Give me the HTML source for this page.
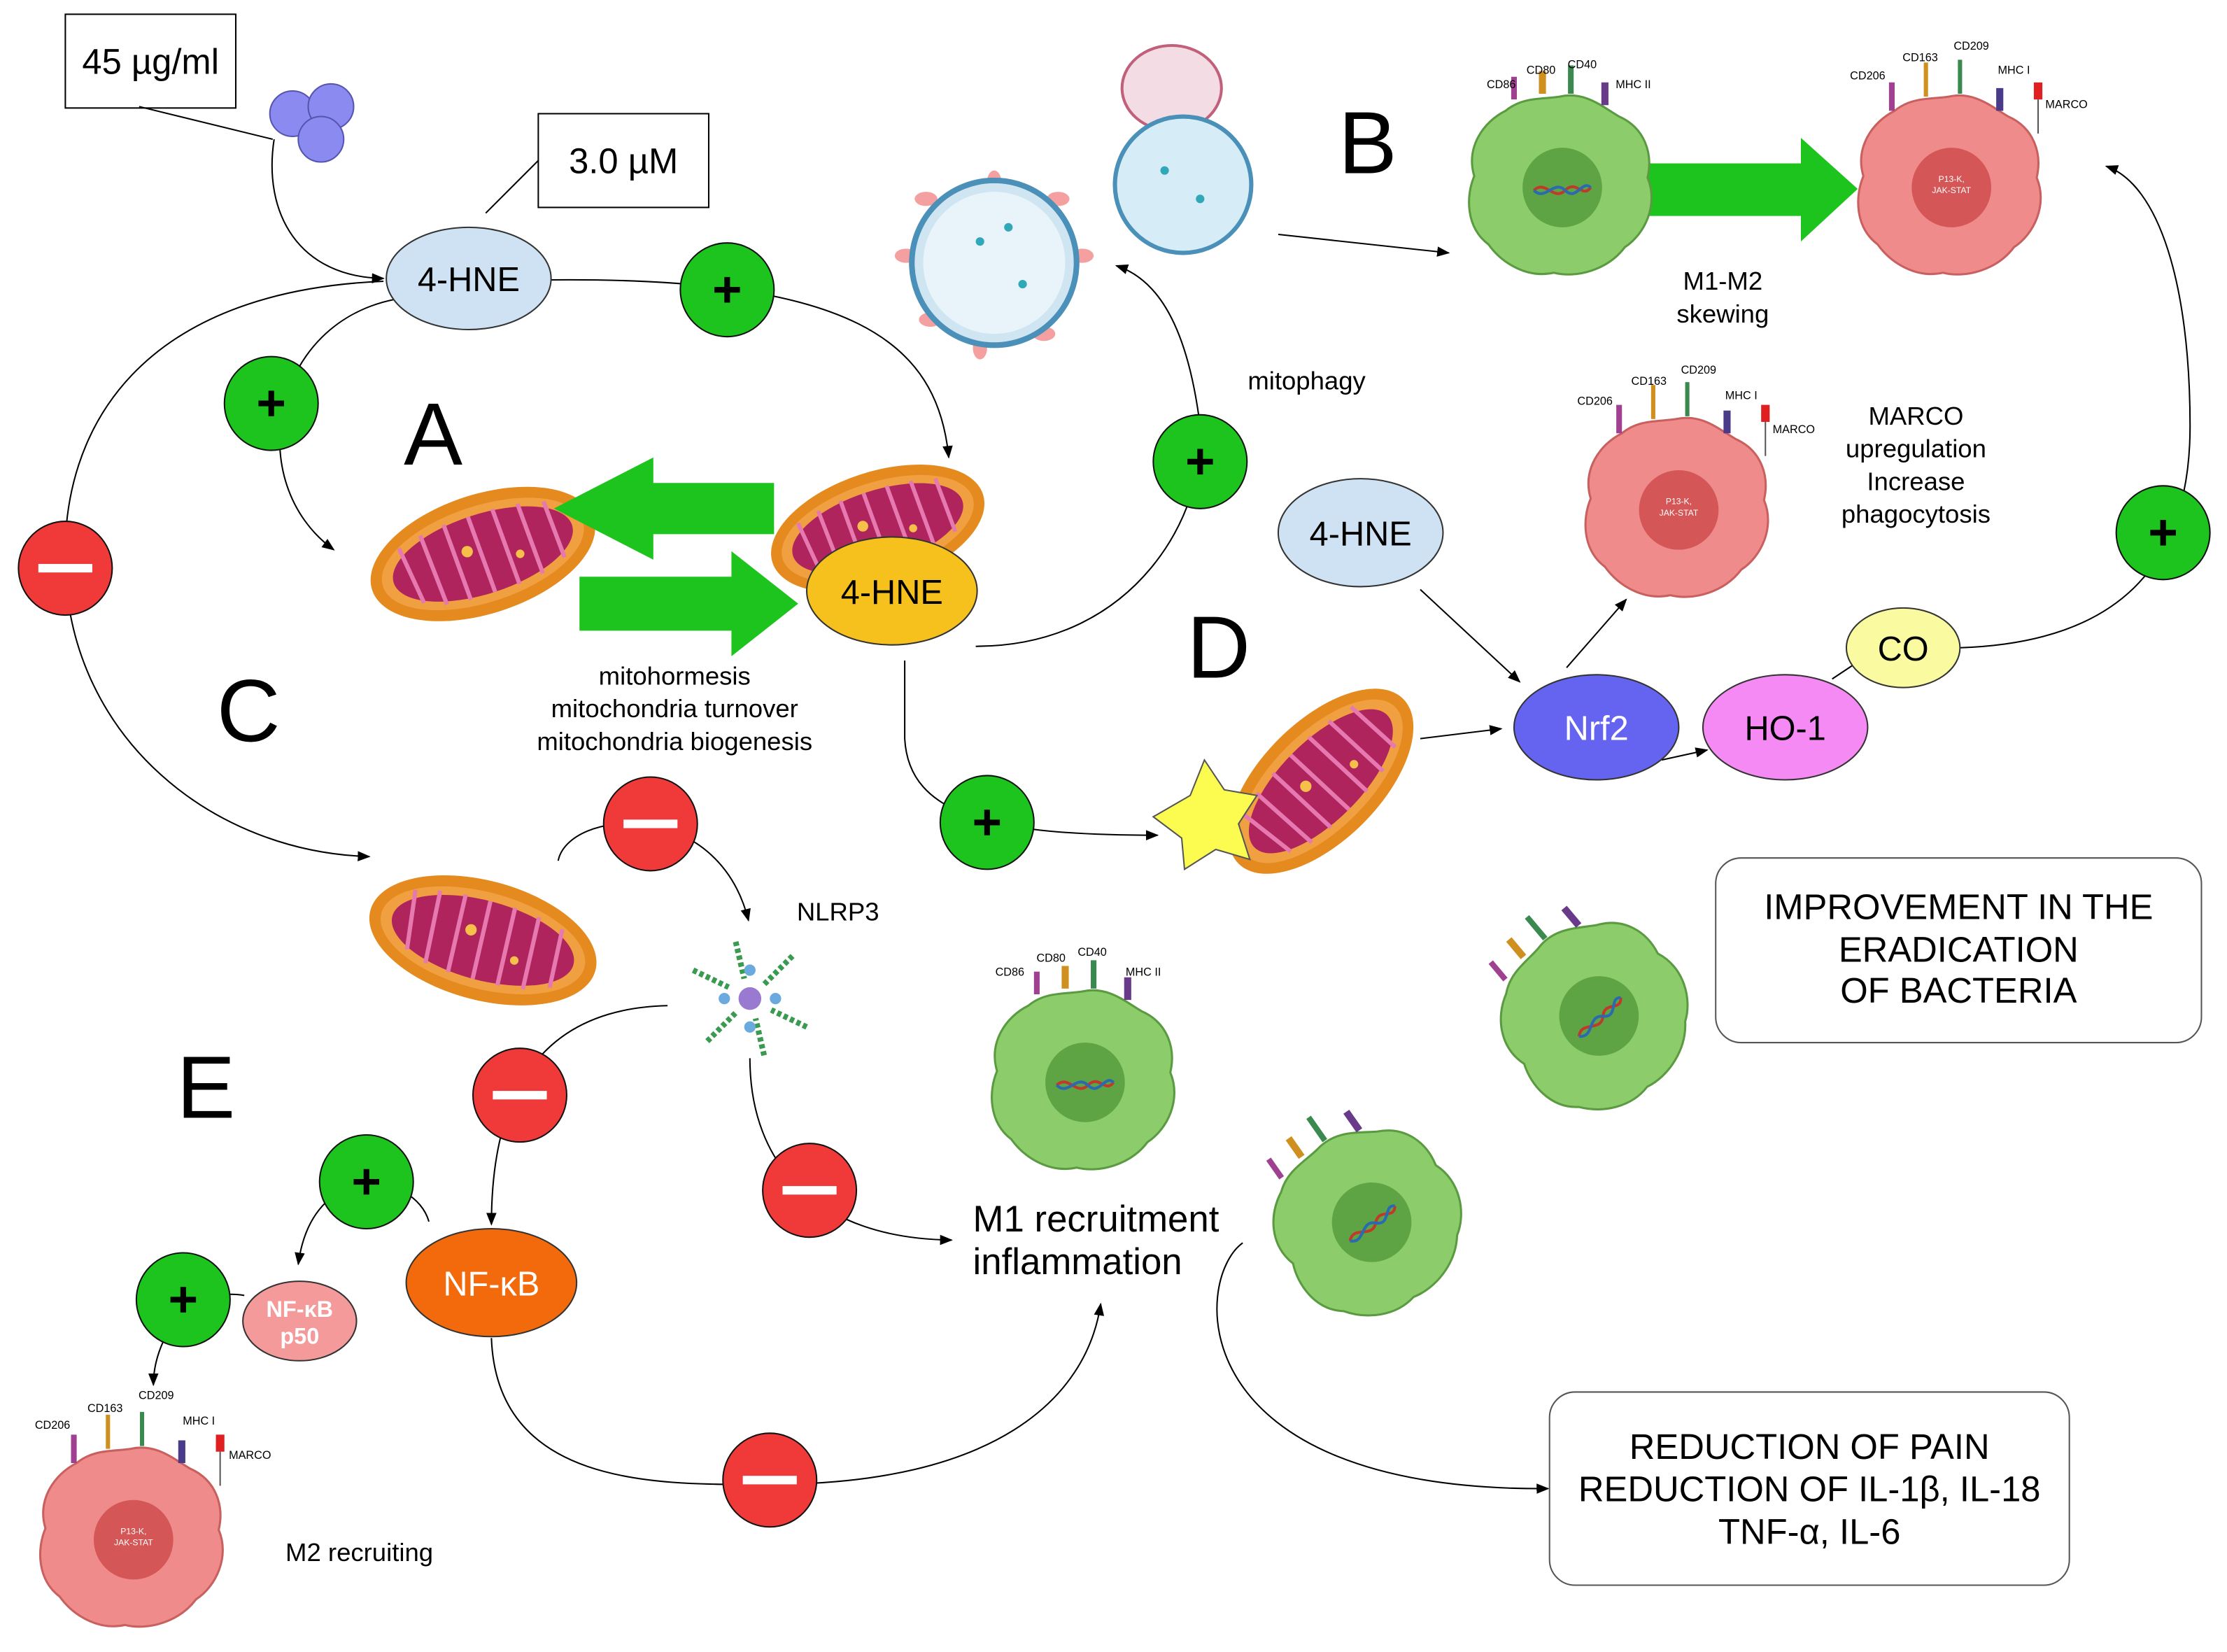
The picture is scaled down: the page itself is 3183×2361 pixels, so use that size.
<!DOCTYPE html>
<html><head><meta charset="utf-8"><style>
html,body{margin:0;padding:0;background:#fff}
svg{display:block}
text{font-family:"Liberation Sans",sans-serif}
</style></head><body>
<svg width="3183" height="2361" viewBox="0 0 1568 1163" xmlns="http://www.w3.org/2000/svg">
<defs>
<marker id="ar" viewBox="0 0 10 10" refX="9" refY="5" markerWidth="9" markerHeight="9" orient="auto" markerUnits="userSpaceOnUse"><path d="M0,1 L10,5 L0,9 z" fill="#000"/></marker>
<g id="mito">
<ellipse cx="0" cy="0" rx="82" ry="42" fill="#e58a1e"/>
<ellipse cx="0" cy="0" rx="74" ry="34" fill="#f0a040"/>
<ellipse cx="0" cy="0" rx="66" ry="28" fill="#b0245e"/>
<path d="M-55,-22 L-50,20 M-38,-26 L-35,26 M-20,-28 L-18,28 M-2,-28 L0,28 M16,-28 L18,28 M34,-26 L36,26 M52,-22 L54,20" stroke="#e67ab0" stroke-width="3" fill="none"/>
<circle cx="-10" cy="-5" r="4" fill="#f6c04a"/><circle cx="25" cy="8" r="3" fill="#f6c04a"/>
</g>
<g id="gcell">
<path d="M0,-62 C18,-66 30,-55 42,-48 C60,-40 66,-22 62,-5 C70,14 60,35 46,44 C34,60 12,66 -4,62 C-22,66 -40,56 -50,42 C-66,30 -66,8 -60,-6 C-66,-26 -54,-44 -38,-52 C-26,-62 -12,-60 0,-62 Z" fill="#8ccc6a" stroke="#5a9a40" stroke-width="1.5"/>
<circle cx="2" cy="2" r="28" fill="#5ea444"/>
<path d="M-18,4 C-10,-4 -4,12 4,4 C12,-4 16,10 22,2" stroke="#c0392b" stroke-width="2" fill="none"/>
<path d="M-18,4 C-10,12 -4,-4 4,4 C12,12 16,-4 22,2" stroke="#2a6ab0" stroke-width="2" fill="none"/>
</g>
<g id="pcell">
<path d="M0,-62 C18,-66 30,-55 42,-48 C60,-40 66,-22 62,-5 C70,14 60,35 46,44 C34,60 12,66 -4,62 C-22,66 -40,56 -50,42 C-66,30 -66,8 -60,-6 C-66,-26 -54,-44 -38,-52 C-26,-62 -12,-60 0,-62 Z" fill="#ef8b8b" stroke="#c96060" stroke-width="1.5"/>
<circle cx="2" cy="2" r="28" fill="#d45656"/>
<text x="2" y="-2" font-size="6" fill="#fff" text-anchor="middle">P13-K,</text>
<text x="2" y="6" font-size="6" fill="#fff" text-anchor="middle">JAK-STAT</text>
</g>
<g id="recG">
<line x1="-32" y1="-60" x2="-32" y2="-76" stroke="#a04090" stroke-width="4"/>
<line x1="-12" y1="-64" x2="-12" y2="-80" stroke="#d09020" stroke-width="5"/>
<line x1="8" y1="-64" x2="8" y2="-84" stroke="#3a8a50" stroke-width="4"/>
<line x1="32" y1="-56" x2="32" y2="-72" stroke="#6a3a8a" stroke-width="5"/>
</g>
<g id="recP">
<line x1="-40" y1="-52" x2="-40" y2="-72" stroke="#a04090" stroke-width="4"/>
<line x1="-16" y1="-62" x2="-16" y2="-86" stroke="#d09020" stroke-width="3"/>
<line x1="8" y1="-64" x2="8" y2="-88" stroke="#3a8a50" stroke-width="3"/>
<line x1="36" y1="-52" x2="36" y2="-68" stroke="#4a3a8a" stroke-width="5"/>
<rect x="60" y="-72" width="6" height="12" fill="#e02020"/>
<line x1="63" y1="-60" x2="63" y2="-36" stroke="#555" stroke-width="1"/>
</g>
<g id="plus"><circle r="33" fill="#1ec41e" stroke="#111" stroke-width="1"/><path d="M-9,0 H9 M0,-9 V9" stroke="#000" stroke-width="4"/></g>
<g id="minus"><circle r="33" fill="#f03a3a" stroke="#111" stroke-width="1"/><rect x="-19" y="-3" width="38" height="6" fill="#fff"/></g>
</defs>

<rect x="46" y="10" width="120" height="66" fill="#fff" stroke="#000" stroke-width="1"/>
<text x="106" y="52" font-size="25" text-anchor="middle">45 µg/ml</text>
<line x1="98" y1="75" x2="192" y2="98" stroke="#000"/>
<circle cx="206" cy="80" r="16" fill="#8a8af0" stroke="#5555b0"/>
<circle cx="233" cy="75" r="16" fill="#8a8af0" stroke="#5555b0"/>
<circle cx="226" cy="98" r="16" fill="#8a8af0" stroke="#5555b0"/>
<rect x="379" y="80" width="120" height="66" fill="#fff" stroke="#000"/>
<text x="439" y="122" font-size="25" text-anchor="middle">3.0 µM</text>
<line x1="379" y1="113" x2="342" y2="150" stroke="#000"/>

<g fill="none" stroke="#000" stroke-width="1">
<path d="M193,98 C185,150 210,195 270,196" marker-end="url(#ar)"/>
<path d="M388,197 C600,195 660,240 668,322" marker-end="url(#ar)"/>
<path d="M270,198 C100,205 42,300 46,400 C50,520 150,600 260,603" marker-end="url(#ar)"/>
<path d="M282,210 C190,225 170,340 235,387" marker-end="url(#ar)"/>
<path d="M687,455 C800,455 850,360 845,300 C835,220 810,195 786,187" marker-end="url(#ar)"/>
<path d="M637,465 L637,520 C640,575 700,588 815,588" marker-end="url(#ar)"/>
<path d="M900,165 L1020,178" marker-end="url(#ar)"/>
<path d="M1000,415 L1070,480" marker-end="url(#ar)"/>
<path d="M1103,470 L1145,422" marker-end="url(#ar)"/>
<path d="M1000,520 L1057,513" marker-end="url(#ar)"/>
<path d="M1170,535 L1202,528" marker-end="url(#ar)"/>
<path d="M1290,478 L1317,460" marker-end="url(#ar)"/>
<path d="M1380,456 C1500,452 1542,390 1542,300 C1542,200 1520,130 1483,117" marker-end="url(#ar)"/>
<path d="M393,606 C400,570 505,560 527,648" marker-end="url(#ar)"/>
<path d="M470,708 C380,710 346,770 346,862" marker-end="url(#ar)"/>
<path d="M528,745 C528,820 575,872 670,873" marker-end="url(#ar)"/>
<path d="M302,860 C292,825 220,815 210,890" marker-end="url(#ar)"/>
<path d="M172,912 C130,905 108,945 108,975" marker-end="url(#ar)"/>
<path d="M346,942 C350,1050 470,1045 542,1045 C700,1045 765,985 775,918" marker-end="url(#ar)"/>
<path d="M875,875 C840,900 830,1050 1090,1048" marker-end="url(#ar)"/>
</g>

<ellipse cx="330" cy="196" rx="58" ry="36" fill="#cfe2f3" stroke="#333"/>
<text x="330" y="205" font-size="24" text-anchor="middle">4-HNE</text>

<use href="#mito" transform="translate(340,390) rotate(-18)"/>
<use href="#mito" transform="translate(618,372) rotate(-18) scale(0.95)"/>
<use href="#mito" transform="translate(340,662) rotate(15)"/>
<use href="#mito" transform="translate(930,550) rotate(-45)"/>
<polygon points="812,575 838,560 848,535 862,556 885,560 872,580 880,605 856,598 834,612 832,590" fill="#fbfb50" stroke="#555"/>

<polygon points="545,340 460,340 460,322 390,358 460,394 460,376 545,376" fill="#1ec41e"/>
<polygon points="408,406 515,406 515,388 562,425 515,462 515,444 408,444" fill="#1ec41e"/>
<polygon points="1153,115 1268,115 1268,97 1308,133 1268,170 1268,152 1153,152" fill="#1ec41e"/>

<ellipse cx="628" cy="416" rx="60" ry="38" fill="#f6c11c" stroke="#333"/>
<text x="628" y="425" font-size="24" text-anchor="middle">4-HNE</text>

<text x="475" y="482" font-size="18" text-anchor="middle">mitohormesis</text>
<text x="475" y="505" font-size="18" text-anchor="middle">mitochondria turnover</text>
<text x="475" y="528" font-size="18" text-anchor="middle">mitochondria biogenesis</text>

<text x="305" y="327" font-size="62" text-anchor="middle">A</text>
<text x="963" y="122" font-size="62" text-anchor="middle">B</text>
<text x="175" y="522" font-size="62" text-anchor="middle">C</text>
<text x="858" y="477" font-size="62" text-anchor="middle">D</text>
<text x="145" y="787" font-size="62" text-anchor="middle">E</text>

<g fill="#f4a0a0">
<ellipse cx="652" cy="140" rx="8" ry="5"/><ellipse cx="638" cy="180" rx="8" ry="5"/><ellipse cx="655" cy="225" rx="8" ry="5"/>
<ellipse cx="690" cy="245" rx="5" ry="8"/><ellipse cx="735" cy="235" rx="8" ry="5"/><ellipse cx="762" cy="180" rx="8" ry="5"/><ellipse cx="745" cy="140" rx="8" ry="5"/><ellipse cx="700" cy="128" rx="5" ry="8"/>
</g>
<circle cx="700" cy="185" r="58" fill="#cfe6f2" stroke="#4a90b8" stroke-width="4"/>
<circle cx="700" cy="185" r="50" fill="#e8f4fa"/>
<ellipse cx="825" cy="62" rx="35" ry="30" fill="#f4dce4" stroke="#c0607a" stroke-width="2"/>
<circle cx="833" cy="130" r="48" fill="#d6ecf6" stroke="#4a90b8" stroke-width="3"/>
<g fill="#30a8b8"><circle cx="690" cy="170" r="3"/><circle cx="720" cy="200" r="3"/><circle cx="710" cy="160" r="3"/><circle cx="820" cy="120" r="3"/><circle cx="845" cy="140" r="3"/></g>

<text x="920" y="274" font-size="18" text-anchor="middle">mitophagy</text>

<use href="#gcell" transform="translate(1098,130)"/>
<use href="#recG" transform="translate(1098,130)"/>
<text x="1057" y="62" font-size="8" text-anchor="middle">CD86</text><text x="1085" y="52" font-size="8" text-anchor="middle">CD80</text><text x="1114" y="48" font-size="8" text-anchor="middle">CD40</text><text x="1150" y="62" font-size="8" text-anchor="middle">MHC II</text>
<use href="#pcell" transform="translate(1372,130)"/>
<use href="#recP" transform="translate(1372,130)"/>
<text x="1315" y="56" font-size="8" text-anchor="middle">CD206</text><text x="1352" y="43" font-size="8" text-anchor="middle">CD163</text><text x="1388" y="35" font-size="8" text-anchor="middle">CD209</text><text x="1418" y="52" font-size="8" text-anchor="middle">MHC I</text><text x="1455" y="76" font-size="8" text-anchor="middle">MARCO</text>
<text x="1213" y="204" font-size="18" text-anchor="middle">M1-M2</text>
<text x="1213" y="227" font-size="18" text-anchor="middle">skewing</text>

<use href="#pcell" transform="translate(1180,357)"/>
<use href="#recP" transform="translate(1180,357)"/>
<text x="1123" y="285" font-size="8" text-anchor="middle">CD206</text><text x="1161" y="271" font-size="8" text-anchor="middle">CD163</text><text x="1196" y="263" font-size="8" text-anchor="middle">CD209</text><text x="1226" y="281" font-size="8" text-anchor="middle">MHC I</text><text x="1263" y="305" font-size="8" text-anchor="middle">MARCO</text>
<text x="1349" y="299" font-size="18" text-anchor="middle">MARCO</text>
<text x="1349" y="322" font-size="18" text-anchor="middle">upregulation</text>
<text x="1349" y="345" font-size="18" text-anchor="middle">Increase</text>
<text x="1349" y="368" font-size="18" text-anchor="middle">phagocytosis</text>

<ellipse cx="958" cy="375" rx="58" ry="38" fill="#cfe2f3" stroke="#333"/>
<text x="958" y="384" font-size="24" text-anchor="middle">4-HNE</text>
<ellipse cx="1124" cy="512" rx="58" ry="37" fill="#6464f0" stroke="#333"/>
<text x="1124" y="521" font-size="24" text-anchor="middle" fill="#fff">Nrf2</text>
<ellipse cx="1257" cy="512" rx="58" ry="37" fill="#f58af5" stroke="#333"/>
<text x="1257" y="521" font-size="24" text-anchor="middle">HO-1</text>
<ellipse cx="1340" cy="456" rx="40" ry="28" fill="#fafaa0" stroke="#333"/>
<text x="1340" y="465" font-size="24" text-anchor="middle">CO</text>

<rect x="1208" y="604" width="342" height="130" rx="18" fill="#fff" stroke="#555"/>
<text x="1379" y="647" font-size="25" text-anchor="middle">IMPROVEMENT IN THE</text>
<text x="1379" y="677" font-size="25" text-anchor="middle">ERADICATION</text>
<text x="1379" y="706" font-size="25" text-anchor="middle">OF BACTERIA</text>

<rect x="1091" y="980" width="366" height="136" rx="18" fill="#fff" stroke="#555"/>
<text x="1274" y="1027" font-size="25" text-anchor="middle">REDUCTION OF PAIN</text>
<text x="1274" y="1057" font-size="25" text-anchor="middle">REDUCTION OF IL-1β, IL-18</text>
<text x="1274" y="1087" font-size="25" text-anchor="middle">TNF-α, IL-6</text>

<use href="#gcell" transform="translate(762,760)"/>
<use href="#recG" transform="translate(762,760)"/>
<text x="711" y="687" font-size="8" text-anchor="middle">CD86</text><text x="740" y="677" font-size="8" text-anchor="middle">CD80</text><text x="769" y="673" font-size="8" text-anchor="middle">CD40</text><text x="805" y="687" font-size="8" text-anchor="middle">MHC II</text>
<use href="#gcell" transform="translate(1123,715) rotate(-40)"/>
<use href="#recG" transform="translate(1123,715) rotate(-40)"/>
<use href="#gcell" transform="translate(963,860) rotate(-35)"/>
<use href="#recG" transform="translate(963,860) rotate(-35)"/>
<use href="#pcell" transform="translate(92,1082)"/>
<use href="#recP" transform="translate(92,1082)"/>
<text x="37" y="1006" font-size="8" text-anchor="middle">CD206</text><text x="74" y="994" font-size="8" text-anchor="middle">CD163</text><text x="110" y="985" font-size="8" text-anchor="middle">CD209</text><text x="140" y="1003" font-size="8" text-anchor="middle">MHC I</text><text x="176" y="1027" font-size="8" text-anchor="middle">MARCO</text>
<text x="253" y="1099" font-size="18" text-anchor="middle">M2 recruiting</text>

<text x="590" y="648" font-size="18" text-anchor="middle">NLRP3</text>
<g transform="translate(528,703)">
<circle r="36" fill="#fff"/>
<g stroke="#3a9a50" stroke-width="4" stroke-dasharray="3 2">
<line x1="-40" y1="-20" x2="-15" y2="-8"/><line x1="40" y1="20" x2="15" y2="8"/><line x1="-10" y1="-40" x2="-4" y2="-14"/><line x1="10" y1="40" x2="4" y2="14"/><line x1="30" y1="-30" x2="10" y2="-10"/><line x1="-30" y1="30" x2="-10" y2="10"/>
</g>
<circle r="8" fill="#9a7ad0"/>
<g fill="#6aaadf"><circle cx="-18" cy="0" r="4"/><circle cx="18" cy="0" r="4"/><circle cx="0" cy="-20" r="4"/><circle cx="0" cy="20" r="4"/></g>
</g>

<ellipse cx="346" cy="903" rx="60" ry="38" fill="#f26a0c" stroke="#333"/>
<text x="346" y="912" font-size="24" text-anchor="middle" fill="#fff">NF-κB</text>
<ellipse cx="211" cy="930" rx="40" ry="28" fill="#f49a9a" stroke="#333"/>
<text x="211" y="927" font-size="16" font-weight="bold" text-anchor="middle" fill="#fff">NF-κB</text>
<text x="211" y="946" font-size="16" font-weight="bold" text-anchor="middle" fill="#fff">p50</text>

<text x="685" y="867" font-size="26">M1 recruitment</text>
<text x="685" y="897" font-size="26">inflammation</text>

<use href="#plus" x="512" y="204"/>
<use href="#plus" x="191" y="284"/>
<use href="#plus" x="845" y="325"/>
<use href="#plus" x="1523" y="375"/>
<use href="#plus" x="695" y="579"/>
<use href="#plus" x="258" y="832"/>
<use href="#plus" x="129" y="915"/>
<use href="#minus" x="46" y="400"/>
<use href="#minus" x="458" y="580"/>
<use href="#minus" x="366" y="771"/>
<use href="#minus" x="570" y="838"/>
<use href="#minus" x="542" y="1042"/>
</svg>
</body></html>
